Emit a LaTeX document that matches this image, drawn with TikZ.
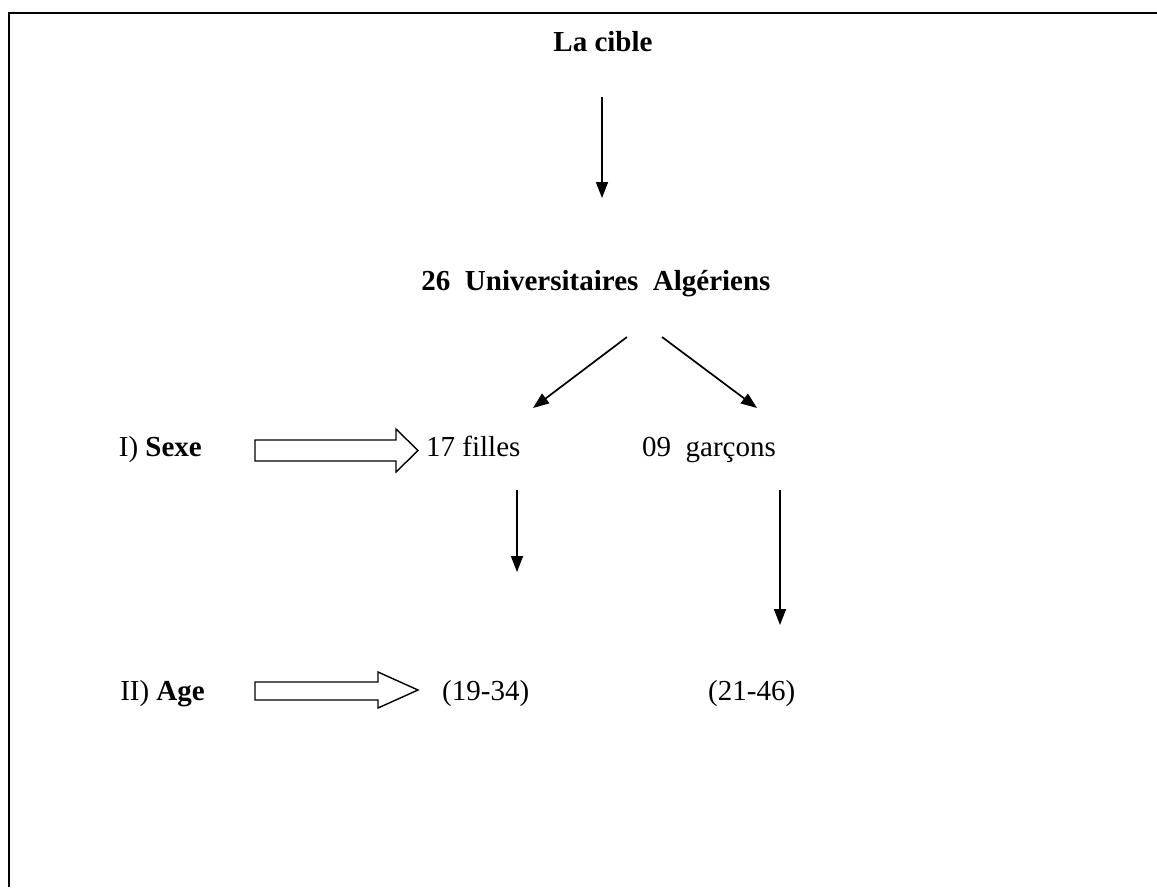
\documentclass[tikz,border=0pt]{standalone}
\usepackage{fontspec}
\setmainfont{Liberation Serif}
\usetikzlibrary{arrows.meta}
\begin{document}
\begin{tikzpicture}[x=1pt,y=-1pt,
  lbl/.style={anchor=base west, inner sep=0pt, font=\fontsize{29}{33}\selectfont},
  lblc/.style={lbl, anchor=base},
  lble/.style={lbl, anchor=base east},
  arr/.style={line width=1.7pt, -{Triangle[length=16pt,width=12pt]}},
  hollow/.style={draw, line width=1.4pt, fill=white, line join=miter}]
\useasboundingbox (0,0) rectangle (1157,887);
\draw[line width=2pt] (9,887) -- (9,13) -- (1157,13);
\node[lblc] (cible) at (603,51) {\textbf{La cible}};
\node[lblc] (univ) at (596,290) {\textbf{26\ \ Universitaires\ \ Algériens}};
\node[lble] (sexe) at (202,456) {I) \textbf{Sexe}};
\node[lbl] (filles) at (426,456) {17 filles};
\node[lbl] (garcons) at (642,456) {09\ \ garçons};
\node[lble] (age) at (205,700) {II) \textbf{Age}};
\node[lbl] (r1) at (442,700) {(19-34)};
\node[lbl] (r2) at (708,700) {(21-46)};
% connector ends
\coordinate (c1s) at (602,97);  \coordinate (c1e) at (602,198);
\coordinate (d1s) at (627,337); \coordinate (d1e) at (533,408);
\coordinate (d2s) at (662,337); \coordinate (d2e) at (757,408);
\coordinate (v1s) at (517,490); \coordinate (v1e) at (517,572);
\coordinate (v2s) at (780,490); \coordinate (v2e) at (780,625);
\draw[arr] (c1s) -- (c1e);
\draw[arr] (d1s) -- (d1e);
\draw[arr] (d2s) -- (d2e);
\draw[arr] (v1s) -- (v1e);
\draw[arr] (v2s) -- (v2e);
% hollow block arrows
\draw[hollow] (255,440) -- (396,440) -- (396,429) -- (418,450.5) -- (396,472) -- (396,461) -- (255,461) -- cycle;
\draw[hollow] (255,682) -- (378,682) -- (378,672) -- (418,690) -- (378,708) -- (378,700) -- (255,700) -- cycle;
\end{tikzpicture}
\end{document}
